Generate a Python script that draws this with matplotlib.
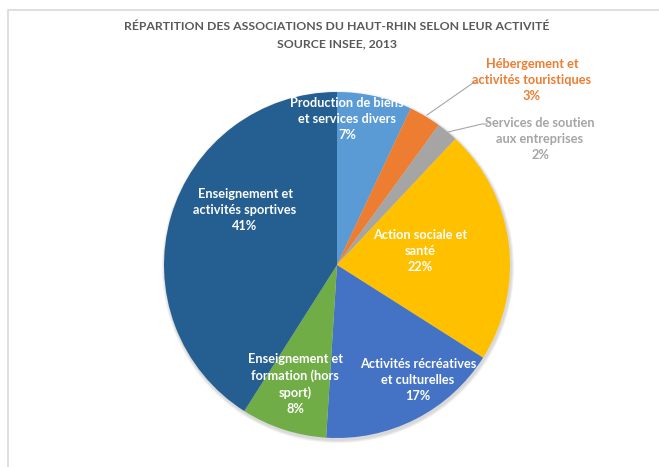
import matplotlib.pyplot as plt
from matplotlib.patches import Rectangle, Circle

plt.rcParams['font.family'] = ['Lato', 'DejaVu Sans']

# data (percent of associations), clockwise from 12 o'clock
categories = [
    "Production de biens\net services divers",
    "Hébergement et\nactivités touristiques",
    "Services de soutien\naux entreprises",
    "Action sociale et\nsanté",
    "Activités récréatives\net culturelles",
    "Enseignement et\nformation (hors\nsport)",
    "Enseignement et\nactivités sportives",
]
shares = [7, 3, 2, 22, 17, 8, 41]
colors = ["#5B9BD5", "#ED7D31", "#A5A5A5", "#FFC000", "#4472C4", "#70AD47", "#255E91"]

W, H = 659, 467
fig = plt.figure(figsize=(W / 100, H / 100), dpi=100)
ax = fig.add_axes([0, 0, 1, 1])

# chart frame (only top and left edges visible in the crop)
fig.patches.append(Rectangle((8 / W, -0.1), 1.2, (H - 10) / H + 0.1, transform=fig.transFigure,
                             fill=False, edgecolor="#D9D9D9", linewidth=1.2))

cx, cy, r = 337, H - 265, 173

# soft shadow
for k, a in enumerate([0.05, 0.05, 0.05]):
    ax.add_patch(Circle((cx + 1, cy - 2), r + 1 + k, color="black", alpha=a, lw=0, zorder=0))

wedges, _ = ax.pie(shares, colors=colors, startangle=90, counterclock=False,
                   center=(cx, cy), radius=r, wedgeprops=dict(linewidth=0),
                   frame=True)

ax.set_xlim(0, W)
ax.set_ylim(0, H)
ax.set_aspect('auto')
ax.axis('off')

ax.text(337, H - 26, "RÉPARTITION DES ASSOCIATIONS DU HAUT-RHIN SELON LEUR ACTIVITÉ",
        ha='center', va='center', fontsize=8.8, fontweight='bold', color='#595959')
ax.text(337, H - 44, "SOURCE INSEE, 2013",
        ha='center', va='center', fontsize=8.8, fontweight='bold', color='#595959')

# label centres in pixel coordinates
label_pos = [(347, 119), (532, 80), (540, 139), (420, 251), (418, 380), (295, 384), (245, 210)]
label_col = ["white", "#ED7D31", "#A5A5A5", "white", "white", "white", "white"]

for i, (txt, v) in enumerate(zip(categories, shares)):
    x, y = label_pos[i]
    t = ax.text(x, H - y, f"{txt}\n{v}%", ha='center', va='center', fontsize=9.2,
                fontweight='bold', color=label_col[i], linespacing=1.4)
    if i == 0:
        t.set_clip_path(wedges[0])

# leader lines for small slices
ax.plot([427, 473, 478], [H - 115, H - 83, H - 83], color="#A6A6A6", lw=0.8)
ax.plot([448, 482, 487], [H - 132, H - 124, H - 124], color="#A6A6A6", lw=0.8)

fig.savefig("out.png", dpi=100)
